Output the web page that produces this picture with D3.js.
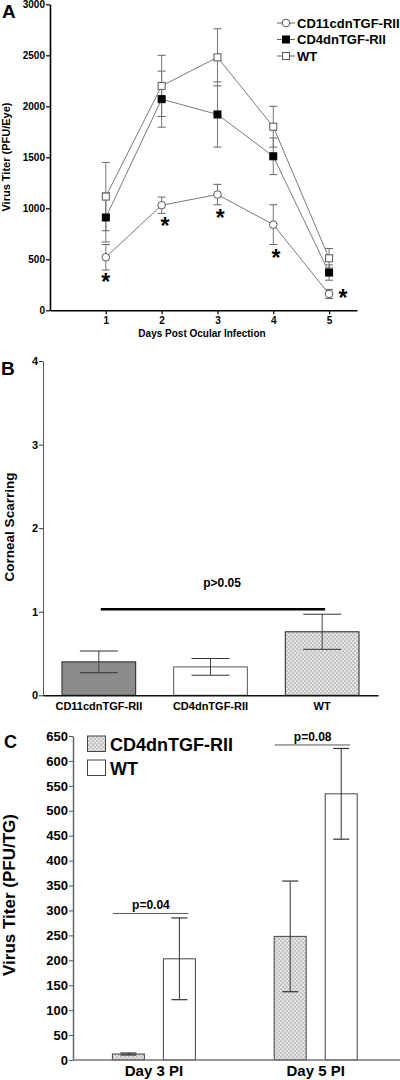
<!DOCTYPE html>
<html><head><meta charset="utf-8">
<script src="https://cdn.jsdelivr.net/npm/d3@7"></script>
<style>body{margin:0;background:#fff}svg{display:block}text{font-family:"Liberation Sans",Arial,sans-serif;font-weight:bold;fill:#000}</style>
</head><body><svg id="c" width="400" height="1080"></svg>
<script>
// ---------- Panel A data ----------
const daysA = [1, 2, 3, 4, 5];
const cd11Mean = [520, 1030, 1135, 840, 160];
const cd11Err = [125, 80, 100, 195, 45];
const cd4Mean = [910, 2070, 1920, 1510, 370];
const cd4Err = [240, 275, 320, 180, 75];
const wtMean = [1115, 2200, 2480, 1800, 510];
const wtErr = [335, 300, 280, 200, 95];
const ticksA = [0, 500, 1000, 1500, 2000, 2500, 3000];
const starDay = [1, 2.06, 3.05, 4.05, 5.25];
const starVal = [326, 875, 954, 562, 170];
const seriesNamesA = ["CD11cdnTGF-RII", "CD4dnTGF-RII", "WT"];

// ---------- Panel B data ----------
const catsB = ["CD11cdnTGF-RII", "CD4dnTGF-RII", "WT"];
const meanB = [0.40, 0.34, 0.76];
const errB = [0.13, 0.10, 0.21];
const ticksB = [0, 1, 2, 3, 4];

// ---------- Panel C data ----------
const groupsC = ["Day 3 PI", "Day 5 PI"];
const seriesC = ["CD4dnTGF-RII", "WT"];
const cd4C = [12, 248];
const cd4CErr = [2, 111];
const wtC = [203, 534];
const wtCErr = [82, 91];
const ticksC = [0,50,100,150,200,250,300,350,400,450,500,550,600,650];
const pTextC = ["p=0.04", "p=0.08"];
const pLevelC = [294, 632];

const svg = d3.select("#c");
const defs = svg.append("defs");
const pat = defs.append("pattern").attr("id","chk").attr("width",4).attr("height",4).attr("patternUnits","userSpaceOnUse");
pat.append("rect").attr("width",4).attr("height",4).attr("fill","#e2e2e2");
pat.append("rect").attr("width",2).attr("height",2).attr("fill","#c4c4c4");
pat.append("rect").attr("x",2).attr("y",2).attr("width",2).attr("height",2).attr("fill","#c4c4c4");
const fmtD = d3.format("d");

// ================= Panel A =================
{
  const x = d3.scaleLinear().domain([0, 5.5]).range([50, 357]);
  const y = d3.scaleLinear().domain([0, 3000]).range([310.3, 4.3]);
  const g = svg.append("g");
  const yAx = g.append("g").attr("transform","translate(50,0)")
    .call(d3.axisLeft(y).tickValues(ticksA).tickFormat(fmtD).tickSize(4).tickPadding(1).tickSizeOuter(0));
  const xAx = g.append("g").attr("transform","translate(0,310.3)")
    .call(d3.axisBottom(x).tickValues(daysA).tickFormat(fmtD).tickSize(4).tickPadding(3).tickSizeOuter(0));
  [yAx, xAx].forEach(a => {
    a.select(".domain").attr("stroke","#000").attr("stroke-width",1.6);
    a.selectAll(".tick line").attr("stroke","#000").attr("stroke-width",1.2);
    a.selectAll("text").attr("font-size",10).style("font-family","'Liberation Sans',Arial,sans-serif").style("font-weight","bold");
  });
  g.append("text").attr("transform","translate(10,157) rotate(-90)").attr("text-anchor","middle").attr("font-size",11).text("Virus Titer (PFU/Eye)");
  g.append("text").attr("x",202).attr("y",337).attr("text-anchor","middle").attr("font-size",10).text("Days Post Ocular Infection");
  g.append("text").attr("x",2).attr("y",18).attr("font-size",19).text("A");

  const series = [
    {name: seriesNamesA[0], m: cd11Mean, e: cd11Err, type: "circle"},
    {name: seriesNamesA[1], m: cd4Mean, e: cd4Err, type: "fsquare"},
    {name: seriesNamesA[2], m: wtMean, e: wtErr, type: "osquare"}
  ];
  const line = d3.line().x((d,i)=>x(daysA[i])).y(d=>y(d));
  series.forEach(s => {
    s.m.forEach((v,i) => {
      const cx = x(daysA[i]);
      g.append("line").attr("x1",cx).attr("x2",cx).attr("y1",y(v - s.e[i])).attr("y2",y(v + s.e[i])).attr("stroke","#777").attr("stroke-width",1);
      [v - s.e[i], v + s.e[i]].forEach(t => g.append("line").attr("x1",cx-4).attr("x2",cx+4).attr("y1",y(t)).attr("y2",y(t)).attr("stroke","#666").attr("stroke-width",1));
    });
  });
  series.forEach(s => {
    g.append("path").attr("d", line(s.m)).attr("fill","none").attr("stroke","#7a7a7a").attr("stroke-width",1);
  });
  function marker(sel, type, cx, cy) {
    if (type === "circle") sel.append("circle").attr("cx",cx).attr("cy",cy).attr("r",3.8).attr("fill","#fff").attr("stroke","#555").attr("stroke-width",1);
    else sel.append("rect").attr("x",cx-3.5).attr("y",cy-3.5).attr("width",7).attr("height",7)
      .attr("fill", type === "fsquare" ? "#000" : "#fff").attr("stroke", type === "fsquare" ? "#000" : "#555").attr("stroke-width",1);
  }
  series.forEach(s => s.m.forEach((v,i) => marker(g, s.type, x(daysA[i]), y(v))));
  starDay.forEach((d,i) => {
    g.append("text").attr("x", x(d)).attr("y", y(starVal[i]) + 13).attr("text-anchor","middle").attr("font-size",23).text("*");
  });
  series.forEach((s,i) => {
    const ly = 23 + i*16.5;
    g.append("line").attr("x1",277).attr("x2",295).attr("y1",ly).attr("y2",ly).attr("stroke","#666").attr("stroke-width",1);
    marker(g, s.type, 286, ly);
    g.append("text").attr("x",297).attr("y",ly+4.6).attr("font-size",13).text(s.name);
  });
}

// ================= Panel B =================
{
  const x = d3.scaleBand().domain(catsB).range([43, 378]).paddingInner(0.34).paddingOuter(0.17);
  const y = d3.scaleLinear().domain([0, 4]).range([695.3, 361]);
  const g = svg.append("g");
  const fills = ["#8c8c8c", "#fff", "url(#chk)"];
  catsB.forEach((c,i) => {
    g.append("rect").attr("x", x(c)).attr("y", y(meanB[i])).attr("width", x.bandwidth()).attr("height", y(0) - y(meanB[i]))
      .attr("fill", fills[i]).attr("stroke", i===1 ? "#555" : "#222").attr("stroke-width",1);
    const cx = x(c) + x.bandwidth()/2;
    g.append("line").attr("x1",cx).attr("x2",cx).attr("y1",y(meanB[i]-errB[i])).attr("y2",y(meanB[i]+errB[i])).attr("stroke","#444").attr("stroke-width",1);
    [meanB[i]-errB[i], meanB[i]+errB[i]].forEach(t => g.append("line").attr("x1",cx-19).attr("x2",cx+19).attr("y1",y(t)).attr("y2",y(t)).attr("stroke","#333").attr("stroke-width",1));
  });
  const yAx = g.append("g").attr("transform","translate(43,0)")
    .call(d3.axisLeft(y).tickValues(ticksB).tickFormat(fmtD).tickSize(4).tickPadding(1).tickSizeOuter(0));
  yAx.select(".domain").attr("stroke","#555").attr("stroke-width",1);
  yAx.selectAll(".tick line").attr("stroke","#333");
  yAx.selectAll("text").attr("font-size",11).style("font-family","'Liberation Sans',Arial,sans-serif").style("font-weight","bold");
  const xAx = g.append("g").attr("transform","translate(0,695.3)")
    .call(d3.axisBottom(x).tickSize(0).tickPadding(7).tickSizeOuter(0));
  xAx.select(".domain").attr("stroke","#111").attr("stroke-width",1.5);
  xAx.selectAll("text").attr("font-size",11).style("font-family","'Liberation Sans',Arial,sans-serif").style("font-weight","bold");
  g.append("text").attr("transform","translate(14,527) rotate(-90)").attr("text-anchor","middle").attr("font-size",13.5).text("Corneal Scarring");
  g.append("text").attr("x",1).attr("y",375).attr("font-size",19).text("B");
  const x1 = x(catsB[0]) + x.bandwidth()/2 + 2, x2 = x(catsB[2]) + x.bandwidth()/2 + 3;
  g.append("line").attr("x1",x1).attr("x2",x2).attr("y1",y(1.03)).attr("y2",y(1.03)).attr("stroke","#000").attr("stroke-width",2.6);
  g.append("text").attr("x",222).attr("y",y(1.03)-22).attr("text-anchor","middle").attr("font-size",12).text("p>0.05");
}

// ================= Panel C =================
{
  const x0 = d3.scaleBand().domain(groupsC).range([73, 396.6]).paddingInner(0.487).paddingOuter(0.2435);
  const x1 = d3.scaleBand().domain(seriesC).range([0, x0.bandwidth()]).paddingInner(0.373).paddingOuter(0);
  const y = d3.scaleLinear().domain([0, 650]).range([1060, 736]);
  const g = svg.append("g");
  const vals = [cd4C, wtC], errs = [cd4CErr, wtCErr], fills = ["url(#chk)", "#fff"];
  groupsC.forEach((gr, gi) => {
    seriesC.forEach((s, si) => {
      const v = vals[si][gi], e = errs[si][gi];
      const bx = x0(gr) + x1(s);
      g.append("rect").attr("x", bx).attr("y", y(v)).attr("width", x1.bandwidth()).attr("height", y(0)-y(v))
        .attr("fill", fills[si]).attr("stroke","#444").attr("stroke-width",1);
      const cx = bx + x1.bandwidth()/2;
      g.append("line").attr("x1",cx).attr("x2",cx).attr("y1",y(v-e)).attr("y2",y(v+e)).attr("stroke","#333").attr("stroke-width",1);
      [v-e, v+e].forEach(t => g.append("line").attr("x1",cx-8).attr("x2",cx+8).attr("y1",y(t)).attr("y2",y(t)).attr("stroke","#333").attr("stroke-width",1.2));
    });
    const lx1 = x0(gr), lx2 = x0(gr) + x0.bandwidth();
    g.append("line").attr("x1",lx1 + 0.5).attr("x2",lx2 - 7).attr("y1",y(pLevelC[gi])).attr("y2",y(pLevelC[gi])).attr("stroke","#555").attr("stroke-width",1);
    g.append("text").attr("x",(lx1+lx2)/2 - 3).attr("y",y(pLevelC[gi]) - 4).attr("text-anchor","middle").attr("font-size",12).text(pTextC[gi]);
  });
  const yAx = g.append("g").attr("transform","translate(73,0)")
    .call(d3.axisLeft(y).tickValues(ticksC).tickFormat(fmtD).tickSize(4).tickPadding(1).tickSizeOuter(0));
  yAx.select(".domain").attr("stroke","#666").attr("stroke-width",1.5);
  yAx.selectAll(".tick line").attr("stroke","#555");
  yAx.selectAll("text").attr("font-size",13).style("font-family","'Liberation Sans',Arial,sans-serif").style("font-weight","bold");
  const xAx = g.append("g").attr("transform","translate(0,1060)")
    .call(d3.axisBottom(x0).tickSize(0).tickPadding(5).tickSizeOuter(0));
  xAx.select(".domain").attr("d","M73,0H400").attr("stroke","#777").attr("stroke-width",1.5);
  xAx.selectAll("text").attr("font-size",15).style("font-family","'Liberation Sans',Arial,sans-serif").style("font-weight","bold");
  g.append("text").attr("transform","translate(15,895) rotate(-90)").attr("text-anchor","middle").attr("font-size",17).text("Virus Titer (PFU/TG)");
  g.append("text").attr("x",4).attr("y",748).attr("font-size",18).text("C");
  seriesC.forEach((s, i) => {
    const ly = 736 + i*24;
    g.append("rect").attr("x",87.5).attr("y",ly).attr("width",18).attr("height",15.5).attr("fill",fills[i]).attr("stroke","#444").attr("stroke-width",1);
    g.append("text").attr("x",110).attr("y",ly+14.5).attr("font-size",18).text(s);
  });
}
</script></body></html>
